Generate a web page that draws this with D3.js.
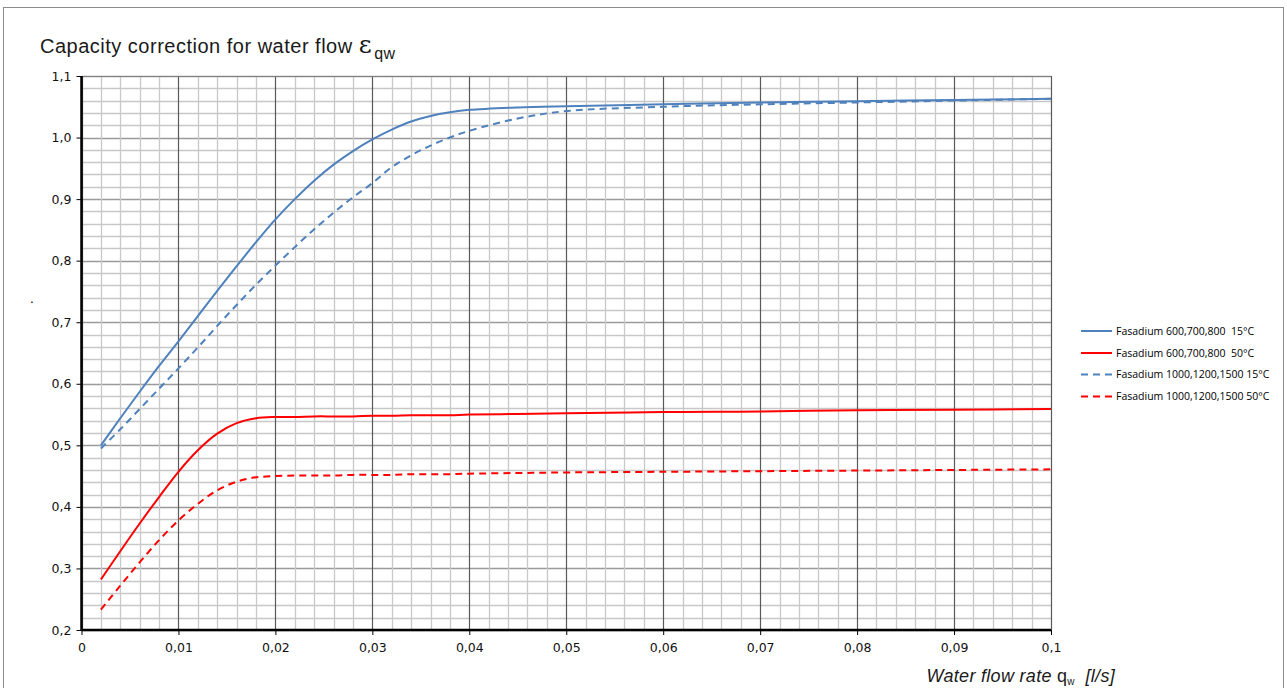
<!DOCTYPE html>
<html>
<head>
<meta charset="utf-8">
<script src="https://cdn.jsdelivr.net/npm/d3@7"></script>
<style>
  body { margin: 0; background: #fff; }
  text { font-family: "DejaVu Sans", sans-serif; white-space: pre; }
</style>
</head>
<body>
<script>
// chart data
var xVals = [0.002, 0.004, 0.006, 0.008, 0.01, 0.012, 0.014, 0.016, 0.018, 0.02, 0.022, 0.024, 0.026, 0.028, 0.03,
  0.032, 0.034, 0.036, 0.038, 0.04, 0.045, 0.05, 0.06, 0.07, 0.08, 0.09, 0.1];

var blue600 = [0.500, 0.544, 0.587, 0.629, 0.669, 0.710, 0.751, 0.791, 0.830, 0.867, 0.900, 0.930, 0.956, 0.978, 0.997,
  1.013, 1.026, 1.035, 1.041, 1.045, 1.049, 1.051, 1.054, 1.057, 1.059, 1.061, 1.063];
var red600 = [0.282, 0.328, 0.373, 0.416, 0.457, 0.492, 0.519, 0.536, 0.544, 0.546, 0.546, 0.547, 0.547, 0.547, 0.548,
  0.548, 0.549, 0.549, 0.549, 0.550, 0.551, 0.552, 0.554, 0.555, 0.557, 0.558, 0.559];
var blue1000 = [0.495, 0.526, 0.559, 0.592, 0.625, 0.659, 0.694, 0.728, 0.761, 0.792, 0.822, 0.851, 0.878, 0.903, 0.926,
  0.952, 0.971, 0.987, 1.000, 1.011, 1.031, 1.043, 1.050, 1.054, 1.057, 1.060, 1.063];
var red1000 = [0.233, 0.272, 0.310, 0.346, 0.378, 0.405, 0.427, 0.441, 0.448, 0.450, 0.451, 0.451, 0.451, 0.452, 0.452,
  0.452, 0.453, 0.453, 0.453, 0.454, 0.455, 0.456, 0.457, 0.458, 0.459, 0.460, 0.461];

var seriesNames = ["Fasadium 600,700,800  15°C", "Fasadium 600,700,800  50°C",
  "Fasadium 1000,1200,1500 15°C", "Fasadium 1000,1200,1500 50°C"];
var seriesData = [blue600, red600, blue1000, red1000];
var seriesColor = ["#4f81bd", "#ff0000", "#4f81bd", "#ff0000"];
var seriesDash = [null, null, "7,5", "7,5"];

var xTicks = [0, 0.01, 0.02, 0.03, 0.04, 0.05, 0.06, 0.07, 0.08, 0.09, 0.1];
var xTickLabels = ["0", "0,01", "0,02", "0,03", "0,04", "0,05", "0,06", "0,07", "0,08", "0,09", "0,1"];
var yTicks = [0.2, 0.3, 0.4, 0.5, 0.6, 0.7, 0.8, 0.9, 1.0, 1.1];
var yTickLabels = ["0,2", "0,3", "0,4", "0,5", "0,6", "0,7", "0,8", "0,9", "1,0", "1,1"];

var width = 1287, height = 688;
var plotL = 81.5, plotR = 1051, plotT = 76, plotB = 630;

var svg = d3.select("body").append("svg")
  .attr("width", width)
  .attr("height", height);

// outer frame
svg.append("rect")
  .attr("x", 3.5).attr("y", 7.5)
  .attr("width", 1280).attr("height", 700)
  .attr("fill", "none")
  .attr("stroke", "#8c8c8c")
  .attr("stroke-width", 1);

var x = d3.scaleLinear().domain([0, 0.1]).range([plotL, plotR]);
var y = d3.scaleLinear().domain([0.2, 1.1]).range([plotB, plotT]);

// minor grid
var xMinor = d3.range(0, 51).map(function(i){ return i * 0.002; });
var yMinor = d3.range(0, 46).map(function(i){ return 0.2 + i * 0.02; });

svg.append("g").selectAll("line")
  .data(yMinor)
  .enter().append("line")
  .attr("x1", plotL).attr("x2", plotR)
  .attr("y1", function(d){ return Math.round(y(d)) + 0.5; })
  .attr("y2", function(d){ return Math.round(y(d)) + 0.5; })
  .attr("stroke", function(d, i){ return i % 5 == 0 ? "#9a9a9a" : "#c8c8c8"; })
  .attr("stroke-width", 1.3);

svg.append("g").selectAll("line")
  .data(xMinor)
  .enter().append("line")
  .attr("y1", plotT).attr("y2", plotB)
  .attr("x1", function(d){ return Math.round(x(d)) + 0.5; })
  .attr("x2", function(d){ return Math.round(x(d)) + 0.5; })
  .attr("stroke", function(d, i){ return i % 5 == 0 ? "#595959" : "#c8c8c8"; })
  .attr("stroke-width", function(d, i){ return i % 5 == 0 ? 1.2 : 1.3; });

// top border of plot
svg.append("line")
  .attr("x1", plotL).attr("x2", plotR)
  .attr("y1", plotT + 0.5).attr("y2", plotT + 0.5)
  .attr("stroke", "#808080").attr("stroke-width", 1.2);

// axes
var xAxis = d3.axisBottom(x)
  .tickValues(xTicks)
  .tickSize(5)
  .tickFormat(function(d, i){ return xTickLabels[i]; });

var yAxis = d3.axisLeft(y)
  .tickValues(yTicks)
  .tickSize(5)
  .tickFormat(function(d, i){ return yTickLabels[i]; });

var gx = svg.append("g")
  .attr("transform", "translate(0," + plotB + ")")
  .call(xAxis);
gx.select(".domain").attr("stroke", "#000").attr("stroke-width", 2.5).attr("d", "M" + plotL + ",0H" + plotR);
gx.selectAll(".tick line").attr("stroke", "#000").attr("stroke-width", 1);
gx.selectAll(".tick text").attr("y", 11).attr("dy", "0.9em").style("font-size", "12.5px").attr("fill", "#111");

var gy = svg.append("g")
  .attr("transform", "translate(" + plotL + ",0)")
  .call(yAxis);
gy.select(".domain").attr("stroke", "#000").attr("stroke-width", 2.5).attr("d", "M0," + plotT + "V" + plotB);
gy.selectAll(".tick line").attr("stroke", "#000").attr("stroke-width", 1);
gy.selectAll(".tick text").attr("x", -10).style("font-size", "12.5px").attr("fill", "#111");

// series
var line = d3.line()
  .x(function(d){ return x(d[0]); })
  .y(function(d){ return y(d[1]); })
  .curve(d3.curveCatmullRom.alpha(0.5));

seriesData.forEach(function(vals, s){
  var pts = xVals.map(function(xv, i){ return [xv, vals[i]]; });
  svg.append("path")
    .datum(pts)
    .attr("d", line)
    .attr("fill", "none")
    .attr("stroke", seriesColor[s])
    .attr("stroke-width", 2)
    .attr("stroke-dasharray", seriesDash[s]);
});

// title
var title = svg.append("text")
  .attr("x", 40).attr("y", 53)
  .style("font-family", "'Liberation Sans', Arial, sans-serif")
  .style("font-size", "20px")
  .style("letter-spacing", "0.5px")
  .attr("fill", "#1a1a1a");
title.append("tspan").text("Capacity correction for water flow ");
title.append("tspan").style("font-size", "25px").style("font-family", "'DejaVu Serif', serif").text("ε");
title.append("tspan").attr("dy", 6).attr("dx", 2).style("font-size", "16px").text("qw");

// y axis label (just a dot in the reference)
svg.append("text")
  .attr("x", 30).attr("y", 303)
  .style("font-size", "12px")
  .attr("fill", "#000")
  .text(".");

// x axis label
var xl = svg.append("text")
  .attr("x", 1115).attr("y", 682)
  .attr("text-anchor", "end")
  .style("font-family", "'Liberation Sans', Arial, sans-serif")
  .style("font-size", "18px")
  .style("letter-spacing", "0.3px")
  .attr("fill", "#1a1a1a");
xl.append("tspan").style("font-style", "italic").text("Water flow rate ");
xl.append("tspan").text("q");
xl.append("tspan").attr("dy", 3).style("font-size", "10px").text("w");
xl.append("tspan").attr("dy", -3).style("font-style", "italic").text("  [l/s]");

// legend
var legendY = [331, 353, 374.5, 396.5];
var legend = svg.append("g").selectAll("g")
  .data(seriesNames)
  .enter().append("g")
  .attr("transform", function(d, i){ return "translate(1081," + legendY[i] + ")"; });

legend.append("line")
  .attr("x1", 0).attr("x2", 31)
  .attr("stroke", function(d, i){ return seriesColor[i]; })
  .attr("stroke-width", 2)
  .attr("stroke-dasharray", function(d, i){ return seriesDash[i] ? "7,5" : null; });

legend.append("text")
  .attr("x", 35).attr("dy", "0.35em")
  .style("font-family", "'Open Sans', sans-serif")
  .style("font-size", "10.5px")
  .attr("fill", "#000")
  .text(function(d){ return d; });
</script>
</body>
</html>
